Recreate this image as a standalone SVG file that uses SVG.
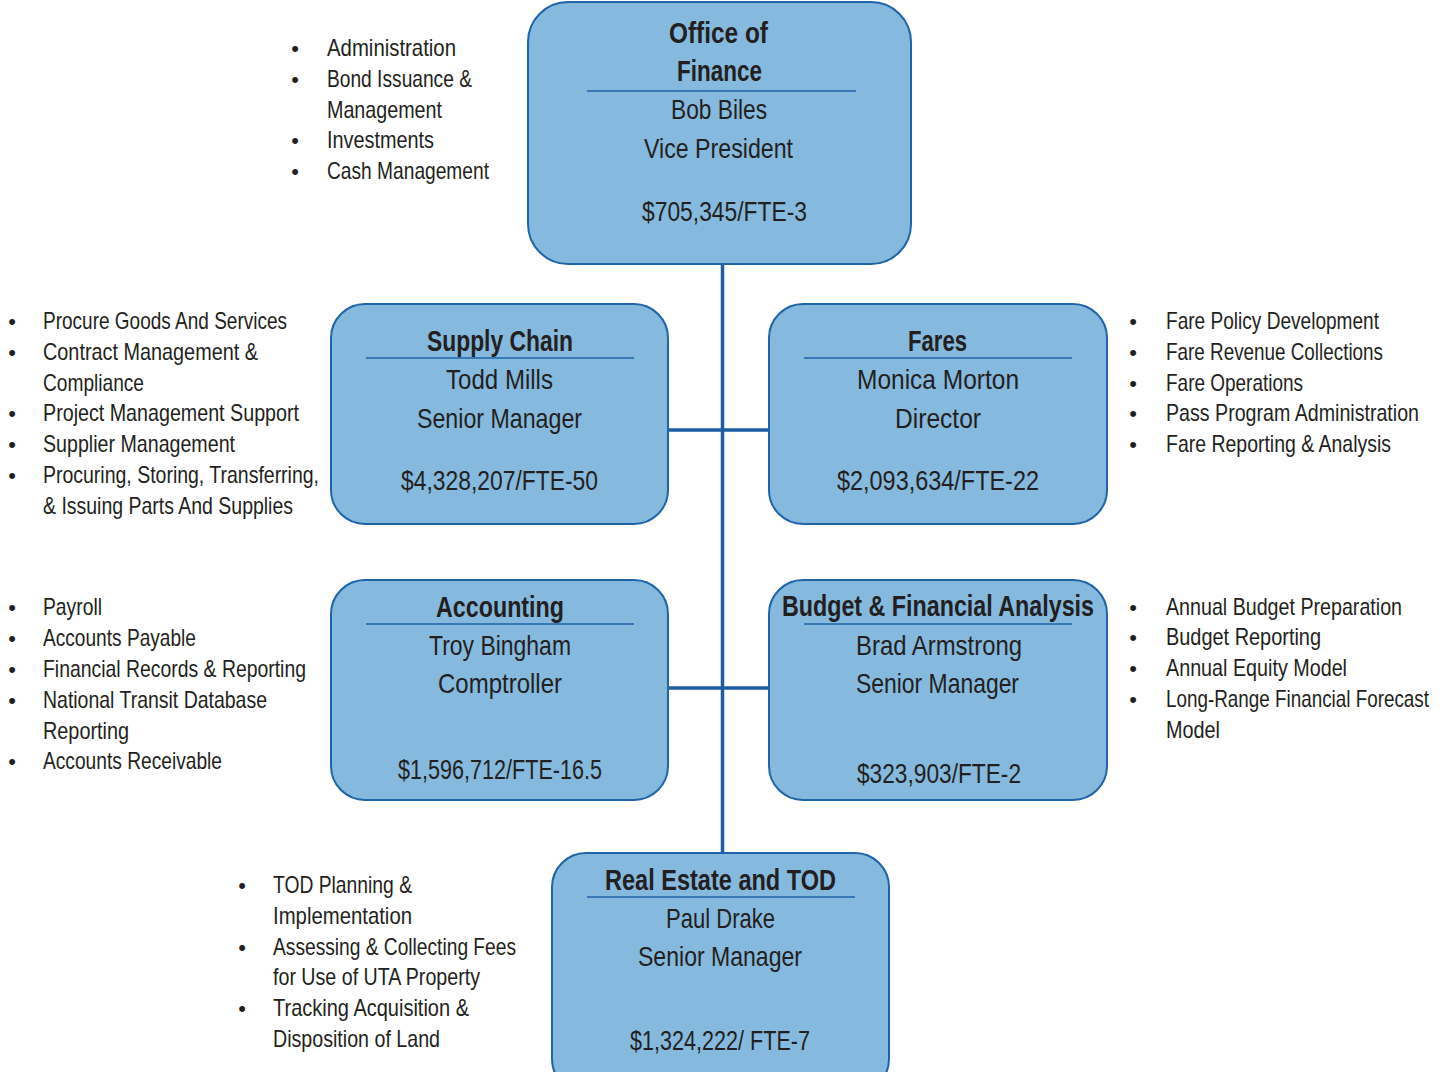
<svg xmlns="http://www.w3.org/2000/svg" width="1447" height="1072" viewBox="0 0 1447 1072">
<style>
.box{fill:#86b9de;stroke:#1f63a8;stroke-width:2}
.rule{stroke:#1f63a8;stroke-width:1.5}
.conn{stroke:#1c5ea5;stroke-width:3.5;fill:none}
text{font-family:"Liberation Sans",Arial,sans-serif;fill:#231f20}
.t{font-size:29px;font-weight:bold;text-anchor:middle}
.b{font-size:28px;text-anchor:middle}
.l{font-size:24px}
.d{font-size:22px;text-anchor:middle}
</style>
<rect width="1447" height="1072" fill="#ffffff"/>
<g id="connectors">
<line class="conn" x1="722.5" y1="264" x2="722.5" y2="853"/>
<line class="conn" x1="668" y1="430" x2="769" y2="430"/>
<line class="conn" x1="668" y1="688" x2="769" y2="688"/>
</g>
<g id="office">
<rect class="box" x="528" y="2" width="383" height="262" rx="40"/>
<text class="t" x="718.5" y="43" textLength="99" lengthAdjust="spacingAndGlyphs">Office of</text>
<text class="t" x="719.5" y="81" textLength="85" lengthAdjust="spacingAndGlyphs">Finance</text>
<line class="rule" x1="587" y1="91" x2="856" y2="91"/>
<text class="b" x="719" y="119" textLength="96" lengthAdjust="spacingAndGlyphs">Bob Biles</text>
<text class="b" x="718.5" y="158" textLength="149" lengthAdjust="spacingAndGlyphs">Vice President</text>
<text class="b" x="724.5" y="221" textLength="165" lengthAdjust="spacingAndGlyphs">$705,345/FTE-3</text>
</g>
<g id="office-list">
<text class="d" x="295" y="56">•</text><text class="l" x="327" y="56" textLength="129" lengthAdjust="spacingAndGlyphs">Administration</text>
<text class="d" x="295" y="87">•</text><text class="l" x="327" y="87" textLength="145" lengthAdjust="spacingAndGlyphs">Bond Issuance &amp;</text>
<text class="l" x="327" y="118" textLength="115" lengthAdjust="spacingAndGlyphs">Management</text>
<text class="d" x="295" y="148">•</text><text class="l" x="327" y="148" textLength="107" lengthAdjust="spacingAndGlyphs">Investments</text>
<text class="d" x="295" y="179">•</text><text class="l" x="327" y="179" textLength="162" lengthAdjust="spacingAndGlyphs">Cash Management</text>
</g>
<g id="supply">
<rect class="box" x="331" y="304" width="337" height="220" rx="34"/>
<text class="t" x="500" y="351" textLength="146" lengthAdjust="spacingAndGlyphs">Supply Chain</text>
<line class="rule" x1="366" y1="358" x2="634" y2="358"/>
<text class="b" x="499.5" y="389" textLength="107" lengthAdjust="spacingAndGlyphs">Todd Mills</text>
<text class="b" x="499.5" y="428" textLength="165" lengthAdjust="spacingAndGlyphs">Senior Manager</text>
<text class="b" x="499.5" y="490" textLength="197" lengthAdjust="spacingAndGlyphs">$4,328,207/FTE-50</text>
</g>
<g id="supply-list">
<text class="d" x="12" y="329">•</text><text class="l" x="43" y="329" textLength="244" lengthAdjust="spacingAndGlyphs">Procure Goods And Services</text>
<text class="d" x="12" y="360">•</text><text class="l" x="43" y="360" textLength="215" lengthAdjust="spacingAndGlyphs">Contract Management &amp;</text>
<text class="l" x="43" y="391" textLength="101" lengthAdjust="spacingAndGlyphs">Compliance</text>
<text class="d" x="12" y="421">•</text><text class="l" x="43" y="421" textLength="256" lengthAdjust="spacingAndGlyphs">Project Management Support</text>
<text class="d" x="12" y="452">•</text><text class="l" x="43" y="452" textLength="192" lengthAdjust="spacingAndGlyphs">Supplier Management</text>
<text class="d" x="12" y="483">•</text><text class="l" x="43" y="483" textLength="276" lengthAdjust="spacingAndGlyphs">Procuring, Storing, Transferring,</text>
<text class="l" x="43" y="514" textLength="250" lengthAdjust="spacingAndGlyphs">&amp; Issuing Parts And Supplies</text>
</g>
<g id="fares">
<rect class="box" x="769" y="304" width="338" height="220" rx="34"/>
<text class="t" x="937.5" y="351" textLength="59" lengthAdjust="spacingAndGlyphs">Fares</text>
<line class="rule" x1="804" y1="358" x2="1072" y2="358"/>
<text class="b" x="938" y="389" textLength="162" lengthAdjust="spacingAndGlyphs">Monica Morton</text>
<text class="b" x="938" y="428" textLength="86" lengthAdjust="spacingAndGlyphs">Director</text>
<text class="b" x="938" y="490" textLength="202" lengthAdjust="spacingAndGlyphs">$2,093,634/FTE-22</text>
</g>
<g id="fares-list">
<text class="d" x="1133" y="329">•</text><text class="l" x="1166" y="329" textLength="213" lengthAdjust="spacingAndGlyphs">Fare Policy Development</text>
<text class="d" x="1133" y="360">•</text><text class="l" x="1166" y="360" textLength="217" lengthAdjust="spacingAndGlyphs">Fare Revenue Collections</text>
<text class="d" x="1133" y="391">•</text><text class="l" x="1166" y="391" textLength="137" lengthAdjust="spacingAndGlyphs">Fare Operations</text>
<text class="d" x="1133" y="421">•</text><text class="l" x="1166" y="421" textLength="253" lengthAdjust="spacingAndGlyphs">Pass Program Administration</text>
<text class="d" x="1133" y="452">•</text><text class="l" x="1166" y="452" textLength="225" lengthAdjust="spacingAndGlyphs">Fare Reporting &amp; Analysis</text>
</g>
<g id="accounting">
<rect class="box" x="331" y="580" width="337" height="220" rx="34"/>
<text class="t" x="500" y="617" textLength="128" lengthAdjust="spacingAndGlyphs">Accounting</text>
<line class="rule" x1="366" y1="624" x2="634" y2="624"/>
<text class="b" x="500" y="655" textLength="142" lengthAdjust="spacingAndGlyphs">Troy Bingham</text>
<text class="b" x="500" y="693" textLength="124" lengthAdjust="spacingAndGlyphs">Comptroller</text>
<text class="b" x="500" y="779" textLength="204" lengthAdjust="spacingAndGlyphs">$1,596,712/FTE-16.5</text>
</g>
<g id="accounting-list">
<text class="d" x="12" y="615">•</text><text class="l" x="43" y="615" textLength="59" lengthAdjust="spacingAndGlyphs">Payroll</text>
<text class="d" x="12" y="646">•</text><text class="l" x="43" y="646" textLength="153" lengthAdjust="spacingAndGlyphs">Accounts Payable</text>
<text class="d" x="12" y="677">•</text><text class="l" x="43" y="677" textLength="263" lengthAdjust="spacingAndGlyphs">Financial Records &amp; Reporting</text>
<text class="d" x="12" y="708">•</text><text class="l" x="43" y="708" textLength="224" lengthAdjust="spacingAndGlyphs">National Transit Database</text>
<text class="l" x="43" y="739" textLength="86" lengthAdjust="spacingAndGlyphs">Reporting</text>
<text class="d" x="12" y="769">•</text><text class="l" x="43" y="769" textLength="179" lengthAdjust="spacingAndGlyphs">Accounts Receivable</text>
</g>
<g id="budget">
<rect class="box" x="769" y="580" width="338" height="220" rx="34"/>
<text class="t" x="938" y="616" textLength="312" lengthAdjust="spacingAndGlyphs">Budget &amp; Financial Analysis</text>
<line class="rule" x1="804" y1="624" x2="1072" y2="624"/>
<text class="b" x="939" y="655" textLength="166" lengthAdjust="spacingAndGlyphs">Brad Armstrong</text>
<text class="b" x="937.5" y="693" textLength="163" lengthAdjust="spacingAndGlyphs">Senior Manager</text>
<text class="b" x="939" y="783" textLength="164" lengthAdjust="spacingAndGlyphs">$323,903/FTE-2</text>
</g>
<g id="budget-list">
<text class="d" x="1133" y="615">•</text><text class="l" x="1166" y="615" textLength="236" lengthAdjust="spacingAndGlyphs">Annual Budget Preparation</text>
<text class="d" x="1133" y="645">•</text><text class="l" x="1166" y="645" textLength="155" lengthAdjust="spacingAndGlyphs">Budget Reporting</text>
<text class="d" x="1133" y="676">•</text><text class="l" x="1166" y="676" textLength="181" lengthAdjust="spacingAndGlyphs">Annual Equity Model</text>
<text class="d" x="1133" y="707">•</text><text class="l" x="1166" y="707" textLength="263" lengthAdjust="spacingAndGlyphs">Long-Range Financial Forecast</text>
<text class="l" x="1166" y="738" textLength="54" lengthAdjust="spacingAndGlyphs">Model</text>
</g>
<g id="realestate">
<rect class="box" x="552" y="853" width="337" height="240" rx="34"/>
<text class="t" x="720.5" y="890" textLength="231" lengthAdjust="spacingAndGlyphs">Real Estate and TOD</text>
<line class="rule" x1="587" y1="897" x2="855" y2="897"/>
<text class="b" x="720.5" y="928" textLength="109" lengthAdjust="spacingAndGlyphs">Paul Drake</text>
<text class="b" x="720" y="966" textLength="164" lengthAdjust="spacingAndGlyphs">Senior Manager</text>
<text class="b" x="720" y="1050" textLength="180" lengthAdjust="spacingAndGlyphs">$1,324,222/ FTE-7</text>
</g>
<g id="realestate-list">
<text class="d" x="242" y="893">•</text><text class="l" x="273" y="893" textLength="139" lengthAdjust="spacingAndGlyphs">TOD Planning &amp;</text>
<text class="l" x="273" y="924" textLength="139" lengthAdjust="spacingAndGlyphs">Implementation</text>
<text class="d" x="242" y="955">•</text><text class="l" x="273" y="955" textLength="243" lengthAdjust="spacingAndGlyphs">Assessing &amp; Collecting Fees</text>
<text class="l" x="273" y="985" textLength="207" lengthAdjust="spacingAndGlyphs">for Use of UTA Property</text>
<text class="d" x="242" y="1016">•</text><text class="l" x="273" y="1016" textLength="196" lengthAdjust="spacingAndGlyphs">Tracking Acquisition &amp;</text>
<text class="l" x="273" y="1047" textLength="167" lengthAdjust="spacingAndGlyphs">Disposition of Land</text>
</g>
</svg>
